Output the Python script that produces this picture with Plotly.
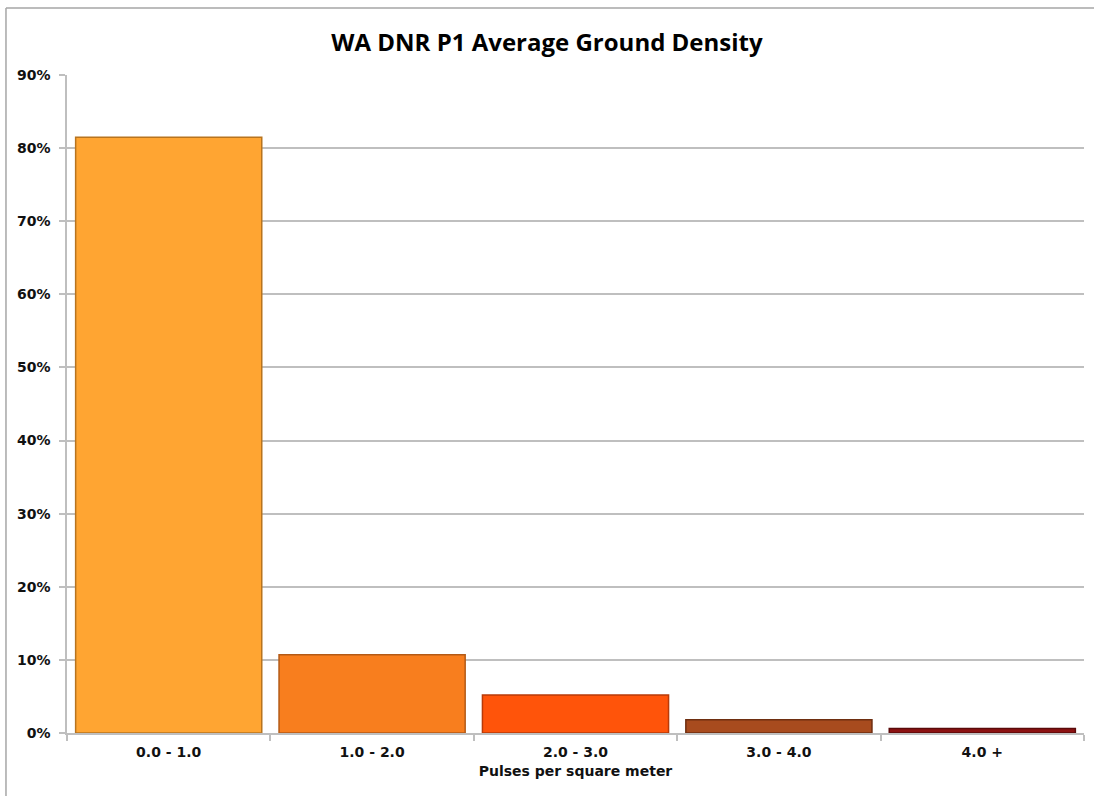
import plotly.graph_objects as go

# Share of area by average ground pulse density
categories = ["0.0 - 1.0", "1.0 - 2.0", "2.0 - 3.0", "3.0 - 4.0", "4.0 +"]
shares = [0.815, 0.107, 0.052, 0.018, 0.006]
y_ticks = [0, 0.1, 0.2, 0.3, 0.4, 0.5, 0.6, 0.7, 0.8, 0.9]

fill_colors = ["#FFA532", "#F87E1E", "#FF540A", "#A84B1E", "#8C1212"]
edge_colors = ["#B8741F", "#B45A16", "#B83A08", "#6E2E10", "#5A0A0A"]

tick_font = dict(family="DejaVu Sans", size=14, color="#111111", weight="bold")

fig = go.Figure(
    go.Bar(
        x=categories,
        y=shares,
        marker=dict(color=fill_colors, line=dict(color=edge_colors, width=1.5)),
        width=0.915,
        hoverinfo="x+y",
    )
)

fig.update_layout(
    width=1094,
    height=796,
    margin=dict(l=67, r=10, t=75, b=63),
    paper_bgcolor="white",
    plot_bgcolor="white",
    showlegend=False,
    title=dict(
        text="WA DNR P1 Average Ground Density",
        x=0.5,
        xanchor="center",
        y=0.947,
        yanchor="middle",
        font=dict(family="Open Sans", size=24, color="#000000", weight="bold"),
    ),
    xaxis=dict(
        showgrid=False,
        showline=True,
        linecolor="#BFBFBF",
        linewidth=1.5,
        ticks="outside",
        ticklen=6,
        tickcolor="#BFBFBF",
        tickwidth=1.5,
        tickson="boundaries",
        tickfont=tick_font,
        ticklabelstandoff=5,
        title=dict(
            text="Pulses per square meter",
            font=dict(family="DejaVu Sans", size=14, color="#111111", weight="bold"),
            standoff=8,
        ),
    ),
    yaxis=dict(
        range=[0, 0.9],
        tickvals=y_ticks,
        tickformat=".0%",
        showgrid=True,
        gridcolor="#BFBFBF",
        gridwidth=1.5,
        showline=True,
        linecolor="#BFBFBF",
        linewidth=1.5,
        ticks="outside",
        ticklen=6,
        tickcolor="#BFBFBF",
        tickwidth=1.5,
        tickfont=tick_font,
        ticklabelstandoff=6,
        zeroline=False,
    ),
    shapes=[
        # chart frame (top and left edges visible)
        dict(type="line", xref="paper", yref="paper",
             x0=-0.06, x1=1.1, y0=1.1018, y1=1.1018,
             line=dict(color="#A6A6A6", width=1.5)),
        dict(type="line", xref="paper", yref="paper",
             x0=-0.06, x1=-0.06, y0=1.1018, y1=-0.2,
             line=dict(color="#A6A6A6", width=1.5)),
    ],
)

fig.write_html("out.html")
